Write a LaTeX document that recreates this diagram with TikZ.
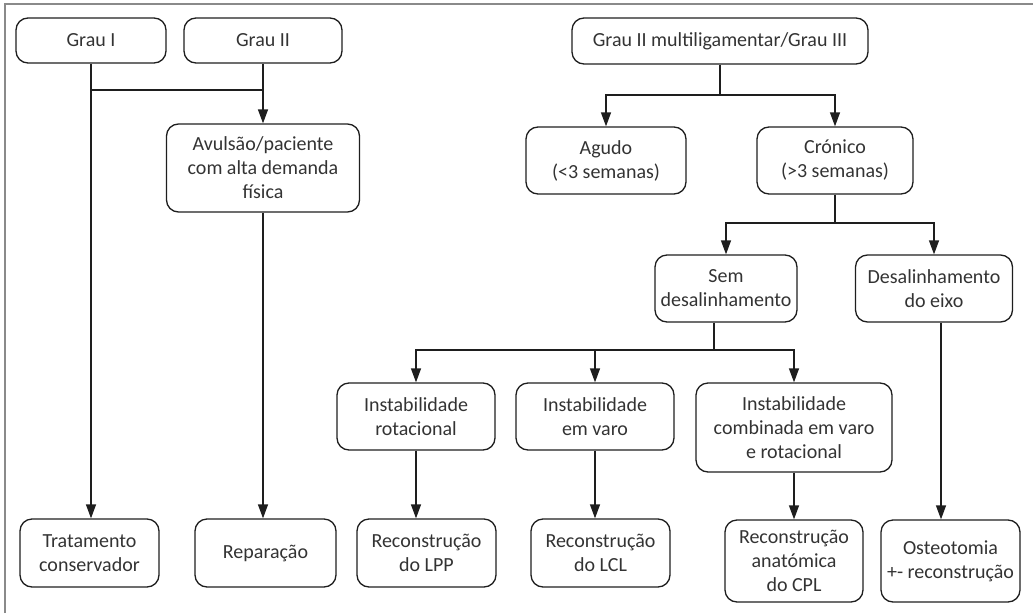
\documentclass[tikz,border=0pt]{standalone}
\usepackage{fontspec}
\setmainfont{Carlito}
\usetikzlibrary{arrows.meta}
\definecolor{txt}{HTML}{333333}
\definecolor{ln}{HTML}{1E1E1E}
\definecolor{frame}{HTML}{8A8A8A}
\tikzset{
  box/.style={draw=ln, line width=1.3pt, rounded corners=12pt, align=center,
    text=txt, font=\fontsize{20}{24}\selectfont, inner sep=2pt},
  conn/.style={draw=ln, line width=1.3pt},
  arr/.style={conn, -{Triangle[length=14pt,width=10pt]}},
}
\begin{document}
\begin{tikzpicture}[x=1pt,y=-1pt]
\useasboundingbox (0,0) rectangle (1033,613);
\draw[frame, line width=1.6pt] (5,613) -- (5,4) -- (1033,4);

% left branch
\node[box, minimum width=150, minimum height=45] (g1) at (91,40.5) {Grau I};
\node[box, minimum width=158, minimum height=45] (g2) at (263,40.5) {Grau II};
\node[box, minimum width=193, minimum height=88] (av) at (263,168) {Avulsão/paciente\\com alta demanda\\física};
\node[box, minimum width=139, minimum height=68] (tr) at (89.5,553) {Tratamento\\conservador};
\node[box, minimum width=141, minimum height=68] (re) at (265.5,553) {Reparação};

% right branch
\node[box, minimum width=296, minimum height=46] (gm) at (720,41) {Grau II multiligamentar/Grau III};
\node[box, minimum width=160, minimum height=67] (ag) at (606,160.5) {Agudo\\(<3 semanas)};
\node[box, minimum width=156, minimum height=67] (cr) at (835,160.5) {Crónico\\(>3 semanas)};
\node[box, minimum width=142, minimum height=67] (sem) at (726,288.5) {Sem\\desalinhamento};
\node[box, minimum width=157, minimum height=67] (des) at (934,288.5) {Desalinhamento\\do eixo};
\node[box, minimum width=158, minimum height=67] (rot) at (416,416.5) {Instabilidade\\rotacional};
\node[box, minimum width=158, minimum height=67] (var) at (595,416.5) {Instabilidade\\em varo};
\node[box, minimum width=196, minimum height=89] (com) at (794,427.5) {Instabilidade\\combinada em varo\\e rotacional};
\node[box, minimum width=139, minimum height=68] (lpp) at (426.5,553) {Reconstrução\\do LPP};
\node[box, minimum width=139, minimum height=68] (lcl) at (600.5,553) {Reconstrução\\do LCL};
\node[box, minimum width=138, minimum height=82] (cpl) at (794,561) {Reconstrução\\anatómica\\do CPL};
\node[box, minimum width=139, minimum height=82] (ost) at (950.5,561) {Osteotomia\\+- reconstrução};

% connectors left
\draw[arr] (g1.south) -- (g1.south |- tr.north);
\draw[conn] (g1.south |- 0,90) -- (g2.south |- 0,90);
\draw[arr] (g2.south) -- (g2.south |- av.north);
\draw[arr] (av.south) -- (av.south |- re.north);

% connectors right
\coordinate (b1) at (gm.south |- 0,95);
\draw[conn] (gm.south) -- (b1);
\draw[arr] (b1) -| (ag.north);
\draw[arr] (b1) -| (cr.north);

\coordinate (b2) at (cr.south |- 0,223);
\draw[conn] (cr.south) -- (b2);
\draw[arr] (b2) -| (sem.north);
\draw[arr] (b2) -| (des.north);

\coordinate (s0) at ([xshift=-12pt]sem.south);
\coordinate (b3) at (s0 |- 0,350);
\draw[conn] (s0) -- (b3);
\draw[arr] (b3) -| (rot.north);
\draw[arr] (b3) -| (var.north);
\draw[arr] (b3) -| (com.north);

\draw[arr] (rot.south) -- (rot.south |- lpp.north);
\draw[arr] (var.south) -- (var.south |- lcl.north);
\draw[arr] (com.south) -- (com.south |- cpl.north);
\coordinate (d0) at ([xshift=7pt]des.south);
\draw[arr] (d0) -- (d0 |- ost.north);
\end{tikzpicture}
\end{document}
